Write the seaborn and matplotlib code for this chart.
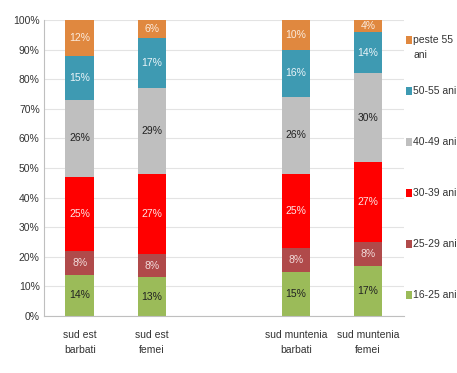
import matplotlib
matplotlib.use("Agg")
import matplotlib.pyplot as plt
import seaborn as sns
import numpy as np
import pandas as pd
from matplotlib.patches import Rectangle

categories = ["sud est\nbarbati", "sud est\nfemei", "sud muntenia\nbarbati", "sud muntenia\nfemei"]
slot_order = ["sud est\nbarbati", "sud est\nfemei", " ", "sud muntenia\nbarbati", "sud muntenia\nfemei"]
series_names = ["16-25 ani", "25-29 ani", "30-39 ani", "40-49 ani", "50-55 ani", "peste 55\nani"]
v_16_25 = [14, 13, 15, 17]
v_25_29 = [8, 8, 8, 8]
v_30_39 = [25, 27, 25, 27]
v_40_49 = [26, 29, 26, 30]
v_50_55 = [15, 17, 16, 14]
v_peste55 = [12, 6, 10, 4]
series_values = [v_16_25, v_25_29, v_30_39, v_40_49, v_50_55, v_peste55]
colors = ["#9BBB59", "#B04A4A", "#FF0000", "#BFBFBF", "#3E9AB2", "#E0883F"]
label_colors = ["#222222", "#F2DCDB", "#FCE4E4", "#222222", "#EAF4F8", "#FBEBDD"]

sns.set_theme(style="white")
plt.rcParams["font.family"] = ["Liberation Sans", "DejaVu Sans"]
FS = 7.5

fig = plt.figure(figsize=(4.57, 3.73), dpi=100)
ax = fig.add_axes([0.096, 0.153, 0.788, 0.793])

vals = np.array(series_values, dtype=float)
cum = np.cumsum(vals, axis=0)

# draw cumulative totals, largest first (stacked effect)
for i in range(len(series_names) - 1, -1, -1):
    df = pd.DataFrame({"cat": categories, "val": cum[i]})
    sns.barplot(data=df, x="cat", y="val", order=slot_order, color=colors[i],
                saturation=1, width=0.4, ax=ax, errorbar=None, zorder=2,
                edgecolor="none")

# segment labels
for i in range(len(series_names)):
    for j, cat in enumerate(categories):
        xpos = slot_order.index(cat)
        ymid = cum[i][j] - vals[i][j] / 2
        ax.text(xpos, ymid, f"{int(vals[i][j])}%", ha="center", va="center",
                fontsize=FS, color=label_colors[i], zorder=5)

ax.set_ylim(0, 100)
ax.set_xlim(-0.5, 4.5)
ax.set_yticks(np.arange(0, 101, 10))
ax.set_yticklabels([f"{t}%" for t in range(0, 101, 10)], fontsize=FS, color="#333333")
ax.set_xticks(range(5))
ax.set_xticklabels(slot_order, fontsize=FS, color="#333333", linespacing=1.6)
ax.set_xlabel("")
ax.set_ylabel("")
ax.set_xticks(np.arange(-0.5, 5, 1), minor=True)
ax.tick_params(axis="x", which="major", length=0, pad=10)
ax.tick_params(axis="x", which="minor", length=4, color="#BFBFBF", width=0.8)
ax.tick_params(axis="y", length=0, pad=3)
ax.yaxis.grid(True, color="#E3E3E3", linewidth=0.8, zorder=0)
ax.set_axisbelow(True)
for s in ["top", "right"]:
    ax.spines[s].set_visible(False)
for s in ["left", "bottom"]:
    ax.spines[s].set_color("#BFBFBF")
    ax.spines[s].set_linewidth(0.8)

# legend (top to bottom: reverse order)
leg_x = 406 / 457
y_top = 1 - 40 / 373
step = 51 / 373
for k, i in enumerate(range(len(series_names) - 1, -1, -1)):
    y = y_top - k * step
    fig.patches.append(Rectangle((leg_x, y - 0.012), 0.013, 0.022, transform=fig.transFigure,
                                 facecolor=colors[i], edgecolor="none"))
    fig.text(leg_x + 0.016, y + 0.014, series_names[i], ha="left", va="top",
             fontsize=FS, color="#333333", linespacing=1.6)

fig.savefig("out.png", dpi=100)
